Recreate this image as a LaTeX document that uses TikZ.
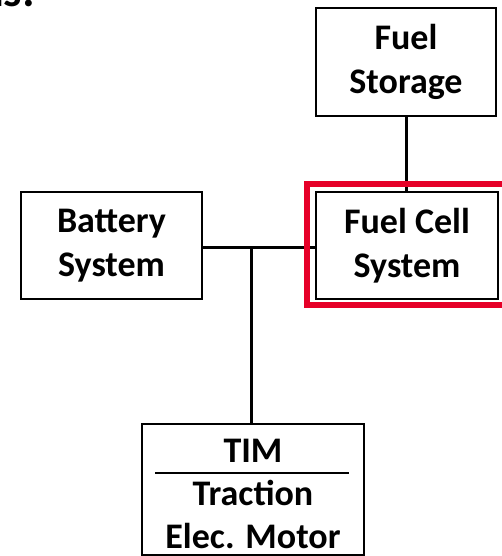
\documentclass[tikz,border=0pt]{standalone}
\usepackage{fontspec}
\setmainfont{Carlito}
\usetikzlibrary{calc}
\begin{document}
\begin{tikzpicture}[x=1pt,y=-1pt,
  box/.style={draw=black,line width=2pt,minimum width=#1,inner sep=0pt,align=center,
    font=\bfseries\fontsize{36}{44}\selectfont},
  conn/.style={line width=3pt},
  hilite/.style={draw={rgb,255:red,230;green,0;blue,40},line width=6pt,inner sep=0pt}]
\useasboundingbox (0,0) rectangle (502,556);
\clip (0,0) rectangle (502,556);
\node[anchor=base east,inner sep=0pt,font=\bfseries\fontsize{46}{50}\selectfont] (head) at (35,7) {ns:};
\node[box=180pt,minimum height=108pt] (fs) at (406,62) {Fuel\\Storage};
\node[box=182pt,minimum height=107pt] (fc) at (407,245.5) {Fuel Cell\\System};
\node[box=181pt,minimum height=107pt] (bat) at (111.5,245.5) {Battery\\System};
\node[box=222pt,minimum height=131pt] (tim) at (253,489.5) {};
\node[inner sep=0pt,align=center,font=\bfseries\fontsize{36}{43}\selectfont] (timtxt) at (253,494) {TIM\\Traction\\Elec. Motor};
\coordinate (j) at (251,247);
\draw[conn] (bat.east |- j) -- (fc.west |- j);
\draw[conn] (j) -- (j |- tim.north);
\draw[conn] (fs.south) -- (fs.south |- fc.north);
\draw[line width=2pt] ($(tim.center)+(-98,-16.5)$) -- ($(tim.center)+(96,-16.5)$);
\node[hilite,minimum width=200pt,minimum height=121pt] (hl) at (407,244.5) {};
\end{tikzpicture}
\end{document}
